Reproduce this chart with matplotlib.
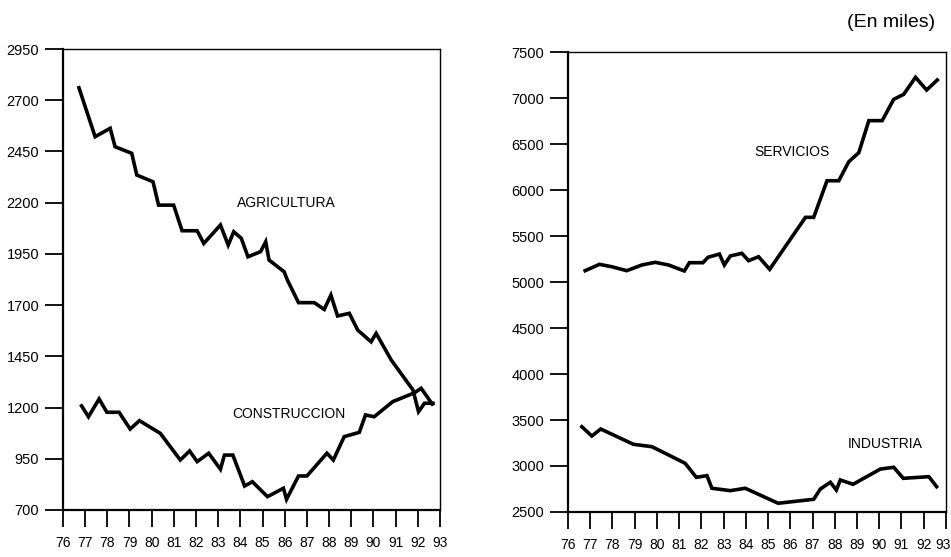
import matplotlib
matplotlib.use("Agg")
import matplotlib.pyplot as plt
from matplotlib.transforms import ScaledTranslation

# Ocupados por sector (en miles), lectura aproximada del gráfico
agri_x = [76.72, 77.45, 78.13, 78.35, 79.10, 79.33, 80.06, 80.31, 80.99, 81.37, 82.05, 82.35,
          83.10, 83.45, 83.70, 84.04, 84.34, 84.91, 85.14, 85.29, 85.97, 86.12, 86.62, 87.33,
          87.78, 88.08, 88.38, 88.91, 89.29, 89.89, 90.12, 90.80, 91.78, 92.03, 92.30, 92.68]
agri_y = [2761, 2522, 2563, 2473, 2441, 2335, 2302, 2188, 2188, 2063, 2063, 2001,
          2091, 1993, 2058, 2026, 1936, 1961, 2009, 1920, 1863, 1822, 1712, 1712,
          1679, 1749, 1647, 1660, 1578, 1521, 1562, 1432, 1286, 1180, 1221, 1221]

constr_x = [76.84, 77.15, 77.63, 77.98, 78.53, 79.03, 79.45, 80.39, 81.29, 81.71, 82.05, 82.57,
            83.10, 83.28, 83.66, 84.19, 84.54, 85.22, 85.94, 86.08, 86.62, 87.00, 87.90, 88.19,
            88.68, 89.36, 89.64, 90.03, 90.87, 91.85, 92.15, 92.65]
constr_y = [1208, 1155, 1242, 1177, 1177, 1095, 1136, 1074, 944, 988, 936, 977,
            899, 968, 968, 817, 838, 765, 806, 752, 866, 866, 977, 944,
            1058, 1079, 1164, 1155, 1229, 1272, 1294, 1217]

serv_x = [76.77, 77.41, 77.97, 78.64, 79.32, 79.92, 80.52, 81.23, 81.46, 82.07, 82.29, 82.81,
          83.03, 83.30, 83.82, 84.12, 84.57, 85.07, 86.68, 87.05, 87.65, 88.18, 88.63, 89.08,
          89.53, 90.13, 90.65, 91.10, 91.63, 92.13, 92.61]
serv_y = [5123, 5192, 5166, 5123, 5185, 5214, 5185, 5120, 5210, 5210, 5268, 5304,
          5185, 5283, 5312, 5232, 5275, 5138, 5703, 5703, 6101, 6101, 6308, 6406,
          6754, 6754, 6986, 7040, 7225, 7087, 7196]

ind_x = [76.62, 77.07, 77.47, 78.94, 79.77, 80.52, 81.27, 81.77, 82.25, 82.47, 83.30, 83.97,
         85.45, 87.05, 87.35, 87.80, 88.07, 88.25, 88.82, 90.05, 90.65, 91.08, 92.23, 92.58]
ind_y = [3427, 3326, 3402, 3236, 3210, 3120, 3029, 2877, 2895, 2758, 2732, 2758,
         2595, 2638, 2750, 2823, 2739, 2848, 2801, 2967, 2986, 2866, 2884, 2775]

years = list(range(76, 94))
left_yticks = [700, 950, 1200, 1450, 1700, 1950, 2200, 2450, 2700, 2950]
right_yticks = [2500, 3000, 3500, 4000, 4500, 5000, 5500, 6000, 6500, 7000, 7500]

FONT = ["Liberation Sans", "DejaVu Sans"]
plt.rcParams["font.family"] = FONT


def style_axes(ax, yticks):
    ax.set_xlim(76, 93)
    ax.set_ylim(yticks[0], yticks[-1])
    ax.set_xticks(years)
    ax.set_xticklabels([str(y) for y in years])
    ax.set_yticks(yticks)
    ax.set_yticklabels([str(v) for v in yticks])
    ax.tick_params(axis="x", direction="out", length=12, width=1.3, pad=7, labelsize=10)
    ax.tick_params(axis="y", direction="out", length=13, width=1.3, pad=4, labelsize=10.5)
    ax.spines["left"].set_linewidth(1.6)
    ax.spines["bottom"].set_linewidth(1.6)
    ax.spines["top"].set_linewidth(1.0)
    ax.spines["right"].set_linewidth(1.0)


fig = plt.figure(figsize=(9.51, 5.57), dpi=100)

ax1 = fig.add_axes([0.0662, 0.0844, 0.3965, 0.8276])
ax1.plot(agri_x, agri_y, color="black", lw=2.6, solid_joinstyle="miter")
ax1.plot(constr_x, constr_y, color="black", lw=2.6, solid_joinstyle="miter")
style_axes(ax1, left_yticks)
ax1.text(86.05, 2198, "AGRICULTURA", ha="center", va="center", fontsize=10)
ax1.text(86.18, 1168, "CONSTRUCCION", ha="center", va="center", fontsize=10)

ax2 = fig.add_axes([0.5973, 0.0808, 0.3974, 0.8258])
ax2.plot(serv_x, serv_y, color="black", lw=2.6, solid_joinstyle="miter")
ax2.plot(ind_x, ind_y, color="black", lw=2.6, solid_joinstyle="miter")
style_axes(ax2, right_yticks)
ax2.text(86.05, 6413, "SERVICIOS", ha="center", va="center", fontsize=10)
ax2.text(90.28, 3239, "INDUSTRIA", ha="center", va="center", fontsize=10)

# el último año del panel derecho queda pegado al borde
last = ax2.get_xticklabels()[-1]
last.set_transform(last.get_transform() + ScaledTranslation(-0.03, 0, fig.dpi_scale_trans))

fig.text(0.983, 0.960, "(En miles)", ha="right", va="center", fontsize=14)

plt.savefig("out.png", dpi=100)
plt.close()
